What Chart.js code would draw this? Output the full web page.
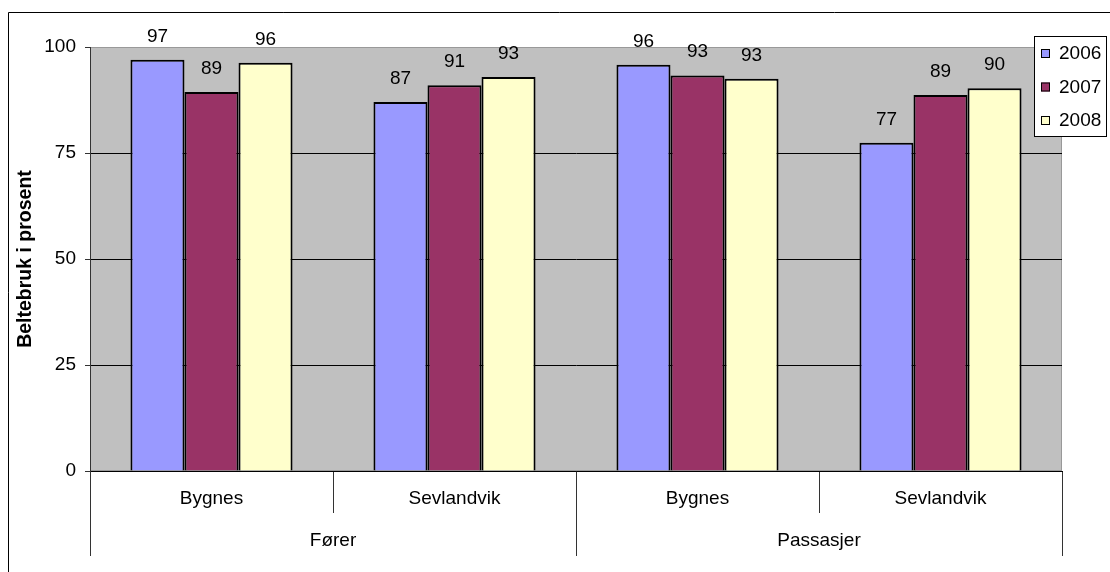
<!DOCTYPE html>
<html>
<head>
<meta charset="utf-8">
<script src="https://cdn.jsdelivr.net/npm/chart.js@4.4.0/dist/chart.umd.min.js"></script>
<style>
  html, body { margin: 0; padding: 0; background: #fff; }
  canvas { display: block; }
</style>
</head>
<body>
<canvas id="belte" width="1110" height="572"></canvas>
<script>
const categories = ['Bygnes', 'Sevlandvik', 'Bygnes', 'Sevlandvik'];
const groups = ['Fører', 'Passasjer'];
const years = ['2006', '2007', '2008'];
const values2006 = [97, 87, 95.8, 77.4];
const values2007 = [89.4, 91, 93.3, 88.7];
const values2008 = [96.3, 92.9, 92.5, 90.3];
const yTicks = [0, 25, 50, 75, 100];

const colors = ['#9999FF', '#993366', '#FFFFCC'];
const FONT = 'Arial, "Liberation Sans", sans-serif';
const FS = 19;

// plot background, outer frame, value labels, legend
const excelLook = {
    id: 'excelLook',
    beforeDraw(chart) {
        const { ctx, chartArea: a } = chart;
        ctx.save();
        ctx.fillStyle = '#C0C0C0';
        ctx.fillRect(a.left, a.top, a.right - a.left, a.bottom - a.top);
        ctx.strokeStyle = '#999';
        ctx.lineWidth = 1;
        ctx.strokeRect(a.left + 0.5, a.top + 0.5, a.right - a.left - 1, a.bottom - a.top - 1);
        // outer chart frame
        ctx.strokeStyle = '#000';
        ctx.beginPath();
        ctx.moveTo(8.5, 572);
        ctx.lineTo(8.5, 12.5);
        ctx.lineTo(1110, 12.5);
        ctx.stroke();
        ctx.restore();
    },
    afterDatasetsDraw(chart) {
        const { ctx } = chart;
        ctx.save();
        ctx.font = FS + 'px ' + FONT;
        ctx.fillStyle = '#000';
        ctx.textAlign = 'center';
        ctx.textBaseline = 'alphabetic';
        chart.data.datasets.forEach((ds, i) => {
            chart.getDatasetMeta(i).data.forEach((bar, j) => {
                ctx.fillText(String(Math.round(ds.data[j])), bar.x, bar.y - 18);
            });
        });
        ctx.restore();
    },
    afterDraw(chart) {
        const { ctx } = chart;
        ctx.save();
        ctx.fillStyle = '#fff';
        ctx.fillRect(1034, 36, 73, 101);
        ctx.strokeStyle = '#000';
        ctx.lineWidth = 1;
        ctx.strokeRect(1034.5, 36.5, 72, 100);
        ctx.font = FS + 'px ' + FONT;
        ctx.textBaseline = 'middle';
        ctx.textAlign = 'left';
        chart.data.datasets.forEach((ds, i) => {
            const cy = 54 + i * 33.5;
            ctx.fillStyle = ds.backgroundColor;
            ctx.fillRect(1041, cy - 5, 9, 9);
            ctx.strokeStyle = '#000';
            ctx.strokeRect(1041.5, cy - 4.5, 8, 8);
            ctx.fillStyle = '#000';
            ctx.fillText(ds.label, 1059, cy);
        });
        ctx.restore();
    }
};

new Chart(document.getElementById('belte'), {
    type: 'bar',
    data: {
        labels: categories,
        datasets: [
            { label: years[0], data: values2006, backgroundColor: colors[0] },
            { label: years[1], data: values2007, backgroundColor: colors[1] },
            { label: years[2], data: values2008, backgroundColor: colors[2] }
        ].map(d => Object.assign(d, {
            borderColor: '#000',
            borderWidth: 2,
            categoryPercentage: 0.667,
            barPercentage: 1
        }))
    },
    options: {
        responsive: false,
        animation: false,
        devicePixelRatio: 1,
        layout: { padding: { top: 47, right: 48, bottom: 16, left: 0 } },
        plugins: {
            legend: { display: false },
            tooltip: { enabled: false }
        },
        scales: {
            x: {
                type: 'category',
                position: 'bottom',
                weight: 0,
                offset: true,
                grid: { offset: true, drawOnChartArea: false, tickLength: 42, color: '#333' },
                border: { color: '#000', width: 1 },
                ticks: { color: '#000', font: { family: FONT, size: FS }, padding: -26, maxRotation: 0 },
                afterFit: s => { s.height = 42; }
            },
            x2: {
                type: 'category',
                position: 'bottom',
                weight: 1,
                labels: groups,
                offset: true,
                grid: { offset: true, drawOnChartArea: false, tickLength: 43, color: '#333' },
                border: { display: false },
                ticks: { color: '#000', font: { family: FONT, size: FS }, padding: -27, maxRotation: 0 },
                afterFit: s => { s.height = 43; }
            },
            y: {
                min: 0,
                max: 100,
                grid: {
                    color: c => (c.tick && c.tick.value === 100) ? '#999' : '#000',
                    tickColor: '#333',
                    tickLength: 5
                },
                border: { color: '#333', width: 1 },
                ticks: { color: '#000', font: { family: FONT, size: FS }, padding: 9 },
                afterBuildTicks: s => { s.ticks = yTicks.map(v => ({ value: v })); },
                title: {
                    display: true,
                    text: 'Beltebruk i prosent',
                    color: '#000',
                    font: { family: FONT, size: 19.5, weight: 'bold' },
                    padding: { top: 14, bottom: 0 }
                },
                afterFit: s => { s.width = 90; }
            }
        }
    },
    plugins: [excelLook]
});
</script>
</body>
</html>
